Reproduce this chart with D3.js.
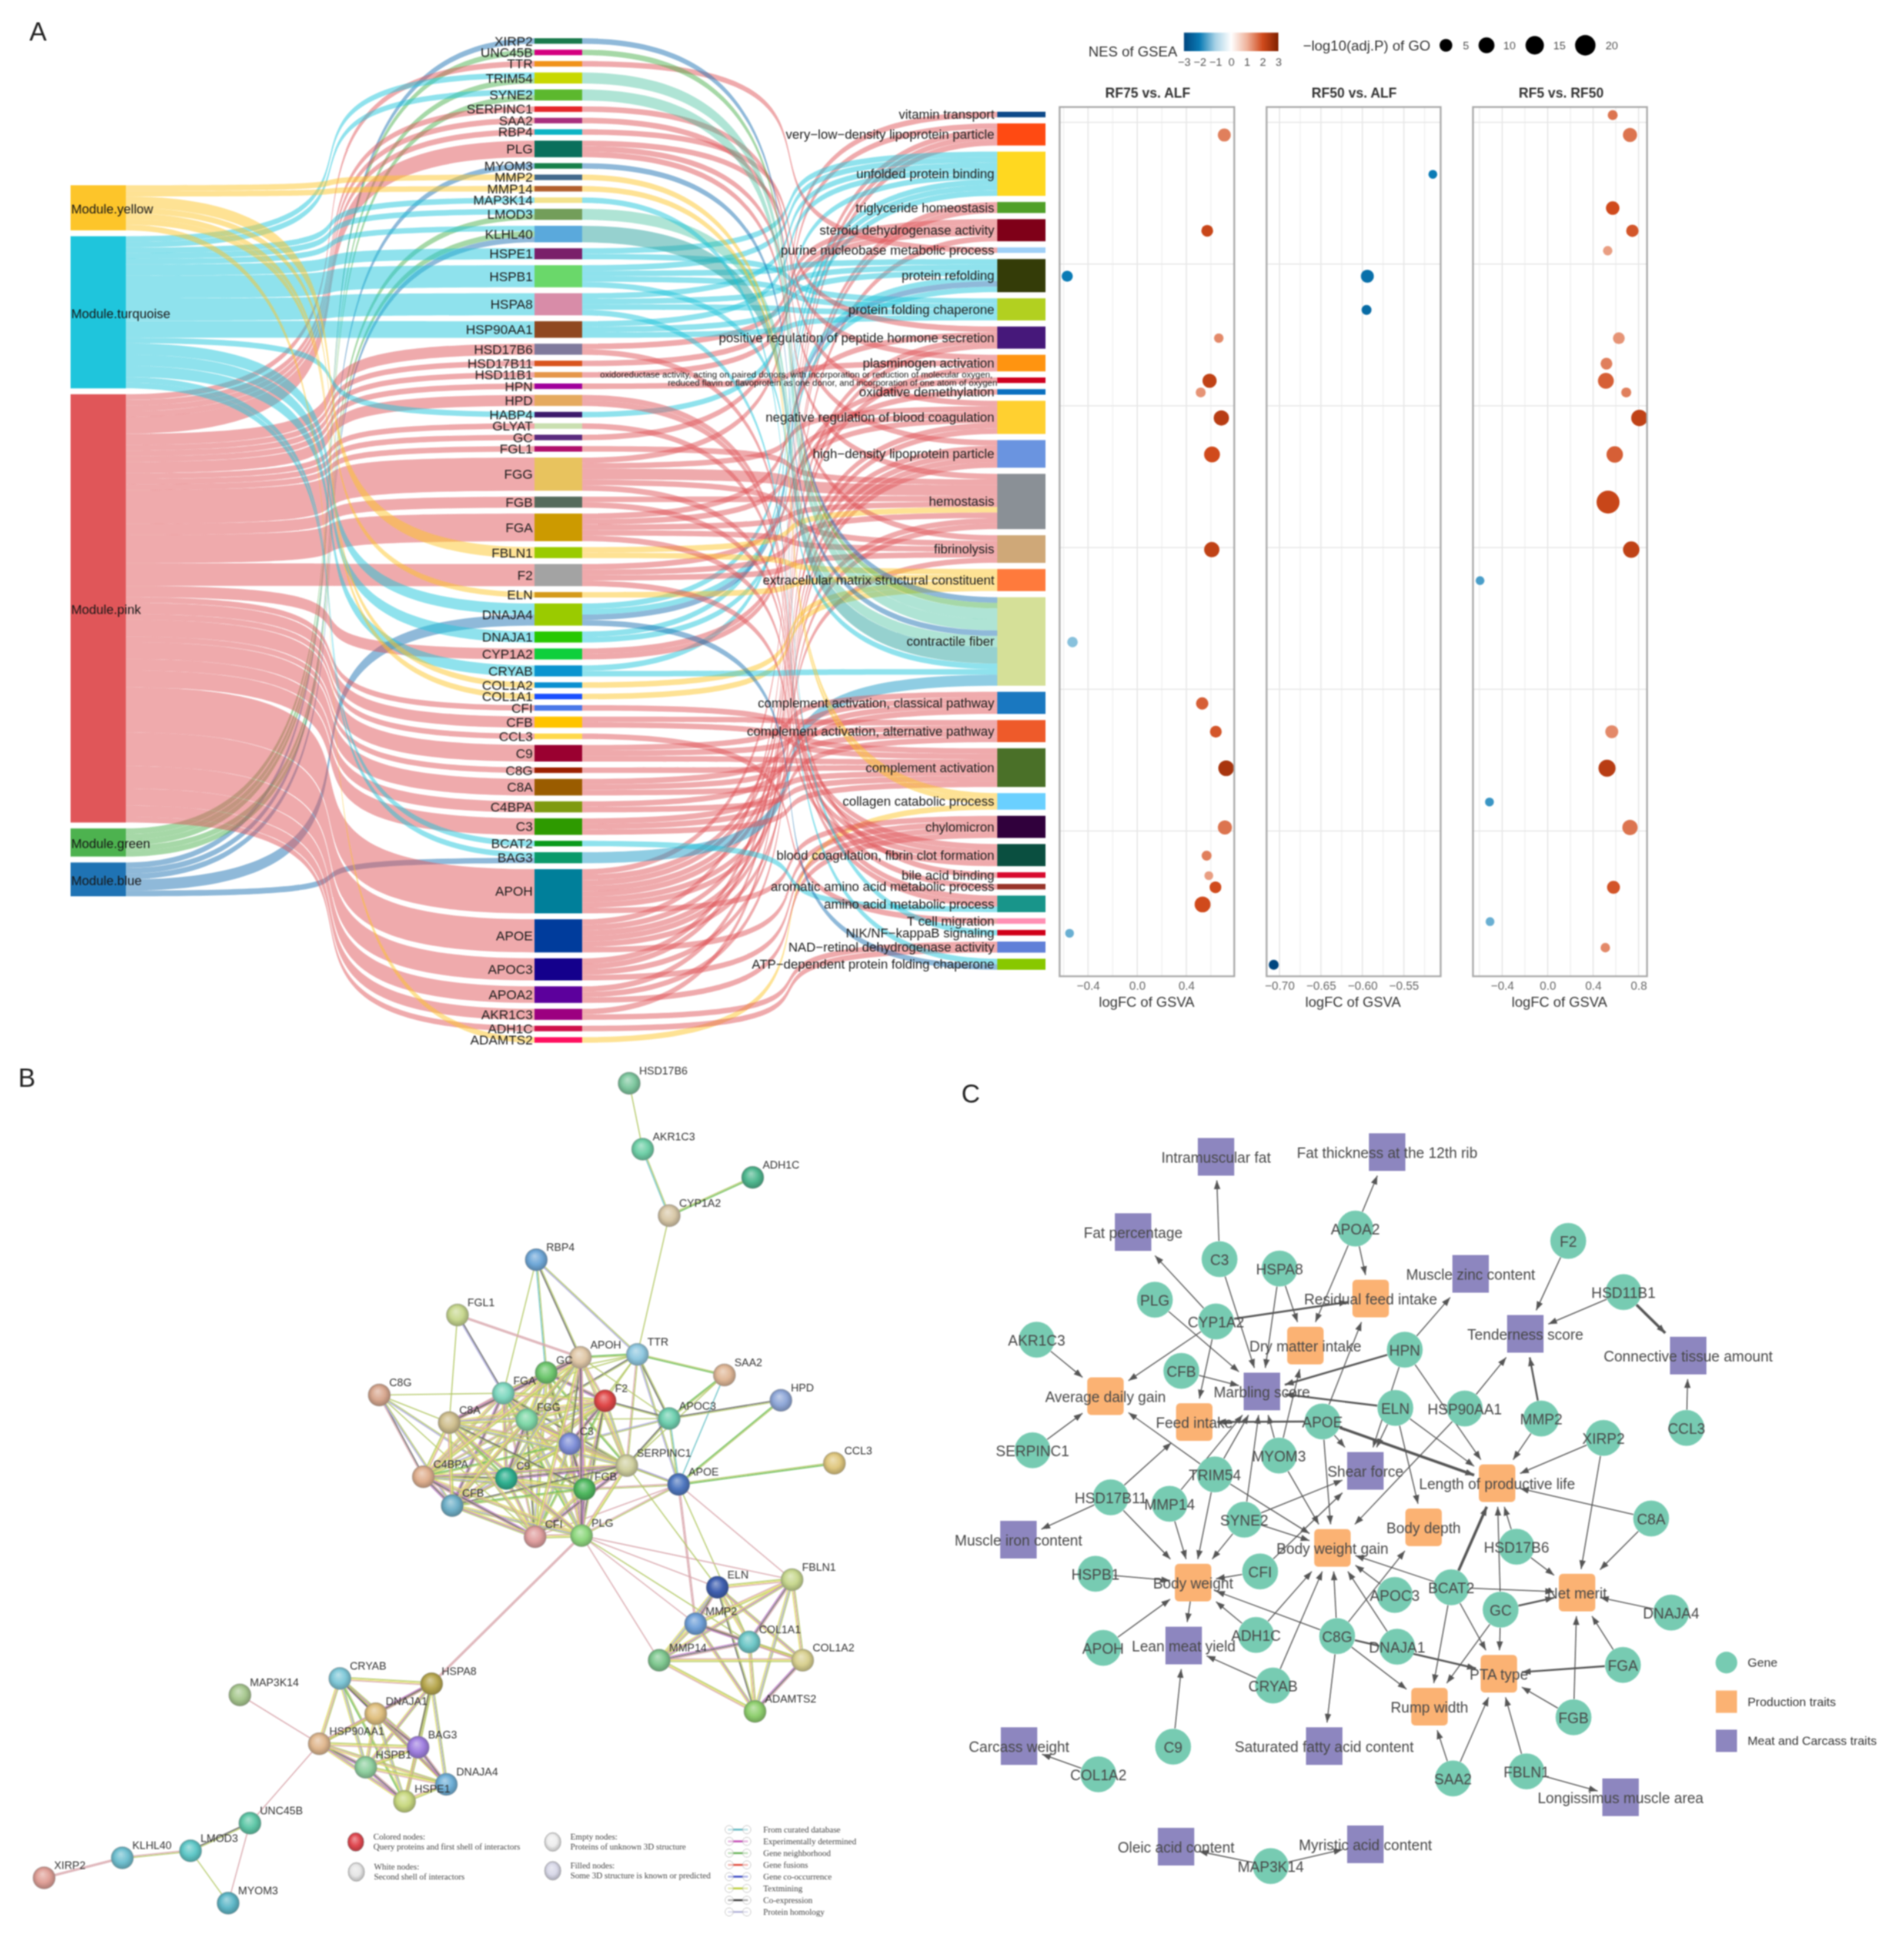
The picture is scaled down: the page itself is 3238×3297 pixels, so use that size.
<!DOCTYPE html>
<html><head><meta charset="utf-8">
<script src="https://cdn.jsdelivr.net/npm/d3@7/dist/d3.min.js"></script>
<style>
html,body{margin:0;padding:0;background:#fff}
svg{display:block;filter:blur(1.2px)}
text{font-family:"Liberation Sans",Arial,sans-serif}
</style></head><body>
<svg id="fig" width="3238" height="3297" viewBox="0 0 3238 3297"></svg>
<script>
/* ---------- panel A data ---------- */
const modules=["yellow","turquoise","pink","green","blue"];
const moduleFill=["#fdc52a","#1fc5dc","#e05659","#4db24f","#1f73b4"];
const genes=["XIRP2","UNC45B","TTR","TRIM54","SYNE2","SERPINC1","SAA2","RBP4","PLG","MYOM3","MMP2","MMP14","MAP3K14","LMOD3","KLHL40","HSPE1","HSPB1","HSPA8","HSP90AA1","HSD17B6","HSD17B11","HSD11B1","HPN","HPD","HABP4","GLYAT","GC","FGL1","FGG","FGB","FGA","FBLN1","F2","ELN","DNAJA4","DNAJA1","CYP1A2","CRYAB","COL1A2","COL1A1","CFI","CFB","CCL3","C9","C8G","C8A","C4BPA","C3","BCAT2","BAG3","APOH","APOE","APOC3","APOA2","AKR1C3","ADH1C","ADAMTS2"];
const geneFill=["#1a7a4c","#d4007f","#f0921a","#c8d800","#5cb82e","#e5262a","#a8307d","#0cb4c4","#0a6f5c","#17804a","#446a8c","#b25f2c","#f3e28c","#739e5a","#5aa9dc","#7a1f6a","#6ad86a","#d88ca8","#8f4820","#7f7a9c","#d9551e","#e5964a","#a0009c","#e5aa5e","#3c1a6a","#c9dfb0","#5a2a7e","#b00f6a","#e8c35e","#556b5c","#cc9a00","#9acb00","#a3a3a3","#d49a1a","#9acb00","#28c800","#0fcf3c","#0a94cf","#0a90d0","#1a50ff","#4a78e8","#ffc400","#ffd84a","#9a0030","#9c2000","#9a5c00","#7f9a10","#2e9a00","#0a9a1c","#0a9a6a","#007f9a","#003c9c","#14008c","#5c009c","#9c0080","#cf0f4a","#ff1060"];
const moduleYellow=[["MMP2",1],["MMP14",1],["FBLN1",2],["ELN",1],["COL1A2",1],["COL1A1",1],["ADAMTS2",1]];
const moduleTurquoise=[["TRIM54",1],["SYNE2",1],["MAP3K14",1],["LMOD3",1],["KLHL40",1],["HSPE1",2],["HSPB1",4],["HSPA8",4],["HSP90AA1",3],["HABP4",1],["DNAJA4",2],["DNAJA1",2],["CRYAB",2],["BCAT2",1],["BAG3",1]];
const modulePink=[["TTR",1],["SERPINC1",1],["SAA2",1],["RBP4",1],["PLG",3],["HSD17B6",2],["HSD17B11",1],["HSD11B1",1],["HPN",1],["HPD",2],["GLYAT",1],["GC",1],["FGL1",1],["FGG",6],["FGB",2],["FGA",5],["F2",4],["CYP1A2",2],["CFI",1],["CFB",2],["CCL3",1],["C9",3],["C8G",1],["C8A",3],["C4BPA",2],["C3",3],["APOH",8],["APOE",6],["APOC3",4],["APOA2",3],["AKR1C3",2],["ADH1C",1]];
const moduleGreen=[["UNC45B",1],["TRIM54",1],["SYNE2",1],["LMOD3",1],["KLHL40",1]];
const moduleBlue=[["XIRP2",1],["MYOM3",1],["KLHL40",1],["DNAJA4",2],["BAG3",1]];
const terms=["vitamin transport","very\u2212low\u2212density lipoprotein particle","unfolded protein binding","triglyceride homeostasis","steroid dehydrogenase activity","purine nucleobase metabolic process","protein refolding","protein folding chaperone","positive regulation of peptide hormone secretion","plasminogen activation","oxidoreductase","oxidative demethylation","negative regulation of blood coagulation","high\u2212density lipoprotein particle","hemostasis","fibrinolysis","extracellular matrix structural constituent","contractile fiber","complement activation, classical pathway","complement activation, alternative pathway","complement activation","collagen catabolic process","chylomicron","blood coagulation, fibrin clot formation","bile acid binding","aromatic amino acid metabolic process","amino acid metabolic process","T cell migration","NIK/NF\u2212kappaB signaling","NAD\u2212retinol dehydrogenase activity","ATP\u2212dependent protein folding chaperone"];
const termFill=["#0d4a8a","#ff4a12","#ffd820","#50a028","#7f0018","#a0d0f8","#343c08","#b2d020","#46187a","#ff9410","#d00020","#0a70c0","#ffd030","#6a94e0","#8a9096","#cfa878","#ff7a3c","#d5e098","#1a78c0","#ee5a2a","#4a7028","#6ad0ff","#30003c","#0a4f40","#d80a2e","#98342a","#18958a","#ff90b4","#d00018","#6080d8","#88c800"];
const termMembers=[
["GC"],
["FGG","APOH","APOE","APOC3"],
["HSPE1","HSPB1","HSPA8","HSP90AA1","HABP4","DNAJA4:turquoise","DNAJA1","CRYAB"],
["APOC3","APOA2"],
["HSD17B6","HSD17B11","HSD11B1","AKR1C3"],
["TTR"],
["HSPB1","HSPA8","HSP90AA1","DNAJA4:turquoise","DNAJA4:blue","DNAJA1"],
["HSPE1","HSPB1","HSPA8","HSP90AA1"],
["RBP4","FGA","APOH","APOE"],
["PLG","HPN","APOH"],
["CYP1A2"],
["CYP1A2"],
["SERPINC1","FGG","FGA","F2","APOH","APOE"],
["SAA2","APOH","APOE","APOC3","APOA2"],
["PLG","FGL1","FGG","FGG","FGB","FGA","FBLN1","F2","APOH","APOE"],
["PLG","FGG","FGA","F2","APOH"],
["FBLN1","ELN","COL1A2","COL1A1"],
["XIRP2","UNC45B","TRIM54","TRIM54","SYNE2","SYNE2","MYOM3","LMOD3","LMOD3","KLHL40","KLHL40","KLHL40","HSPB1","CRYAB","BAG3","BAG3"],
["C9","C8A","C4BPA","C3"],
["CFB","C9","C8A","C3"],
["CFI","CFB","C9","C8G","C8A","C4BPA","C3"],
["MMP2","MMP14","ADAMTS2"],
["APOH","APOE","APOC3","APOA2"],
["FGG","FGB","FGA","F2"],
["HSD17B6"],
["HPD"],
["HPD","GLYAT","BCAT2"],
["CCL3"],
["MAP3K14"],
["AKR1C3","ADH1C"],
["HSPA8","DNAJA4:blue"]
];
const moduleMembers=[moduleYellow,moduleTurquoise,modulePink,moduleGreen,moduleBlue];
const oxidoLines=["oxidoreductase activity, acting on paired donors, with incorporation or reduction of molecular oxygen,","reduced flavin or flavoprotein as one donor, and incorporation of one atom of oxygen"];

/* dot plot data */
const panelTitles=["RF75 vs. ALF","RF50 vs. ALF","RF5 vs. RF50"];
const p1Terms=[1,4,6,8,10,11,12,13,15,17,18,19,20,22,23,24,25,26,28];
const p1LogFC=[.709,.570,-.570,.664,.589,.517,.685,.609,.607,-.527,.529,.640,.724,.714,.565,.583,.637,.532,-.551];
const p1LogP=[5.3,3.9,3.2,1.7,7,2.1,8.9,9.9,8.9,2.6,4.6,3.9,9.5,7,2.1,1.25,3.9,9.9,1.25];
const p1NES=[1.5,2.1,-2.0,1.4,2.2,1.3,2.3,2.0,2.2,-1.2,1.8,1.9,2.5,1.6,1.5,1.2,2.0,2.0,-1.4];
const p2Terms=[2,6,7,30];
const p2LogFC=[-.515,-.594,-.595,-.707];
const p2LogP=[1.25,5.3,2.1,2.1];
const p2NES=[-2.0,-2.2,-2.3,-3.0];
const p3Terms=[0,1,3,4,5,8,9,10,11,12,13,14,15,16,19,20,21,22,25,27,29];
const p3LogFC=[.572,.724,.572,.745,.528,.626,.517,.512,.691,.807,.590,.531,.735,-.595,.564,.522,-.512,.724,.579,-.507,.507];
const p3LogP=[2.1,7,6.1,4.6,1.7,3.9,3.9,9.9,2.1,11,11,27,11,1.25,5.3,12.2,1.25,8.9,5.3,1.25,1.7];
const p3NES=[1.6,1.6,2.0,1.9,1.2,1.3,1.5,1.8,1.5,2.2,1.8,2.1,2.2,-1.6,1.4,2.3,-1.7,1.6,1.9,-1.4,1.4];
const nesStops=[-3,-2,-1,0,1,2,3];
const nesColors=["#00467f","#0a7bb5","#a8d2e6","#ffffff","#efb39c","#d04a1c","#802000"];
const sizeLegend=[5,10,15,20];

/* ---------- panel B data ---------- */
const bNames=["HSD17B6","AKR1C3","ADH1C","CYP1A2","RBP4","FGL1","APOH","TTR","SAA2","HPD","GC","FGA","F2","C8G","C8A","FGG","APOC3","C3","SERPINC1","CCL3","C4BPA","C9","FGB","APOE","CFB","CFI","PLG","ELN","FBLN1","MMP2","COL1A1","COL1A2","MMP14","ADAMTS2","CRYAB","HSPA8","MAP3K14","DNAJA1","HSP90AA1","BAG3","HSPB1","DNAJA4","HSPE1","UNC45B","LMOD3","KLHL40","XIRP2","MYOM3"];
const bX=[1070,1093,1280,1138,912,778,987,1084,1232,1328,929,856,1029,645,764,896,1138,969,1066,1419,720,861,994,1154,769,910,989,1220,1347,1183,1274,1365,1121,1284,578,734,408,639,543,711,622,759,688,425,324,208,75,388];
const bY=[1842,1954,2002,2067,2142,2236,2308,2303,2338,2381,2334,2369,2382,2372,2419,2414,2412,2455,2492,2488,2511,2514,2532,2524,2560,2613,2611,2699,2686,2761,2792,2823,2823,2910,2854,2863,2882,2914,2965,2971,3005,3034,3063,3100,3147,3159,3193,3236];
const bFill=["#7fc8a0","#70d0a8","#50b890","#d8c8a8","#70a8d8","#c8d890","#e0c8a8","#90c8e0","#e0b898","#90a8d8","#70c870","#80d8c0","#e04848","#d8a890","#d0c090","#80d8a8","#70d0b0","#8090d8","#d0d0a0","#e0c880","#e0b090","#30b090","#50b860","#5078c0","#70b0c8","#e0a0a0","#90d880","#4060b0","#c8d890","#70a0d8","#70c8c8","#d8d090","#80c890","#90d070","#80c8d8","#b8a850","#a8c890","#e0c080","#e0b890","#a080e0","#90d0a0","#70b0d8","#c8d880","#60c8a8","#60c8c8","#70c0d0","#e0a098","#60b8c8"];
const bCoreClique=["GC","FGA","F2","FGG","C3","C9","FGB","SERPINC1","PLG","CFI","APOH","C4BPA","C8A","CFB"];
const bHeatClique=["CRYAB","HSPA8","DNAJA1","HSP90AA1","BAG3","HSPB1","DNAJA4","HSPE1"];
const bMatrixClique=["ELN","FBLN1","MMP2","COL1A1","COL1A2","MMP14","ADAMTS2"];
const bStrandCycle=["tpy","tpy","tc","tyh","pce","thy","tp","typ","tey","tn"];
const bEdges=[["HSD17B6","AKR1C3","t"],["AKR1C3","CYP1A2","td"],["CYP1A2","ADH1C","tn"],["CYP1A2","TTR","t"],["RBP4","TTR","th"],["RBP4","APOH","tc"],["RBP4","FGA","t"],["RBP4","GC","td"],["FGL1","APOH","pp"],["FGL1","FGA","ch"],["FGL1","C8A","t"],["TTR","APOH","tn"],["TTR","SAA2","tn"],["TTR","APOC3","tc"],["TTR","GC","t"],["TTR","FGG","tc"],["TTR","F2","t"],["TTR","FGA","t"],["TTR","SERPINC1","tp"],["TTR","APOE","th"],["TTR","C3","t"],["SAA2","APOC3","tn"],["SAA2","APOE","d"],["SAA2","SERPINC1","t"],["HPD","APOC3","tc"],["HPD","APOE","tn"],["APOC3","APOE","dt"],["APOC3","SERPINC1","tc"],["APOC3","FGG","t"],["APOC3","C3","th"],["APOC3","F2","tc"],["APOC3","APOH","t"],["APOE","CCL3","tn"],["APOE","PLG","tp"],["APOE","SERPINC1","tp"],["APOE","FGB","tp"],["APOE","C3","th"],["APOE","CFI","p"],["APOE","MMP2","pp"],["APOE","FBLN1","p"],["APOE","COL1A1","t"],["C8G","FGA","t"],["C8G","C8A","t"],["C8G","C4BPA","cp"],["C8G","C9","th"],["C8G","CFB","th"],["C8G","CFI","t"],["PLG","MMP2","p"],["PLG","MMP14","p"],["PLG","ELN","p"],["PLG","COL1A1","t"],["PLG","FBLN1","p"],["PLG","HSPA8","pp"],["SERPINC1","ELN","t"],["MAP3K14","HSP90AA1","p"],["HSP90AA1","UNC45B","p"],["UNC45B","LMOD3","tc"],["UNC45B","MYOM3","p"],["LMOD3","MYOM3","t"],["LMOD3","KLHL40","tp"],["KLHL40","XIRP2","pp"]];
const bStrandColor={t:"#b5c96a",e:"#c080c8",d:"#6fc4c8",c:"#666",h:"#a9a6dc",n:"#6cbf5b",p:"#d9a9ae",y:"#e2e26a"};
const bLegendNodes=[["Colored nodes:","Query proteins and first shell of interactors","#e04850"],["White nodes:","Second shell of interactors","#e6e6e6"],["Empty nodes:","Proteins of unknown 3D structure","#eeeeee"],["Filled nodes:","Some 3D structure is known or predicted","#d8d8e8"]];
const bLegendEdges=["From curated database","Experimentally determined","Gene neighborhood","Gene fusions","Gene co-occurrence","Textmining","Co-expression","Protein homology"];
const bLegendEdgeColors=["#5ab5c0","#c040b0","#60b050","#e04030","#3040c0","#b8cc30","#333","#b0b0d8"];

/* ---------- panel C data ---------- */
const cGeneNames=["C3","APOA2","F2","HSPA8","PLG","HSD11B1","CYP1A2","AKR1C3","HPN","CFB","ELN","APOE","HSP90AA1","MMP2","XIRP2","CCL3","MYOM3","SERPINC1","TRIM54","HSD17B11","MMP14","SYNE2","C8A","HSD17B6","CFI","HSPB1","BCAT2","APOC3","GC","DNAJA4","ADH1C","C8G","DNAJA1","APOH","FGA","CRYAB","FGB","C9","COL1A2","SAA2","FBLN1","MAP3K14"];
const cGeneX=[2074,2305,2667,2176,1964,2761,2068,1763,2389,2009,2373,2249,2491,2621,2727,2868,2175,1756,2066,1889,1989,2116,2808,2579,2143,1863,2468,2372,2552,2842,2136,2274,2376,1876,2760,2165,2676,1995,1868,2471,2596,2161];
const cGeneY=[2141,2089,2110,2157,2210,2197,2247,2278,2295,2331,2394,2417,2395,2412,2445,2428,2475,2466,2507,2546,2557,2584,2582,2630,2672,2676,2699,2712,2737,2742,2780,2782,2800,2802,2831,2866,2920,2970,3017,3024,3012,3173];
const cProdNames=["Residual feed intake","Dry matter intake","Average daily gain","Feed intake","Length of productive life","Body depth","Body weight gain","Body weight","Net merit","PTA type","Rump width"];
const cProdX=[2331,2220,1880,2031,2546,2421,2266,2029,2682,2549,2431];
const cProdY=[2208,2288,2374,2418,2522,2597,2632,2691,2708,2846,2902];
const cMeatNames=["Intramuscular fat","Fat thickness at the 12th rib","Fat percentage","Muscle zinc content","Tenderness score","Connective tissue amount","Marbling score","Shear force","Muscle iron content","Lean meat yield","Carcass weight","Saturated fatty acid content","Longissimus muscle area","Oleic acid content","Myristic acid content"];
const cMeatX=[2068,2359,1927,2501,2594,2871,2146,2322,1732,2013,1733,2252,2756,2000,2322];
const cMeatY=[1967,1959,2095,2166,2268,2305,2366,2501,2618,2798,2969,2969,3056,3140,3136];
const cEdgesThin=[["C3","Intramuscular fat"],["C3","Marbling score"],["APOA2","Fat thickness at the 12th rib"],["APOA2","Dry matter intake"],["APOA2","Residual feed intake"],["CYP1A2","Fat percentage"],["CYP1A2","Average daily gain"],["CYP1A2","Feed intake"],["HSPA8","Marbling score"],["HSPA8","Dry matter intake"],["PLG","Marbling score"],["AKR1C3","Average daily gain"],["SERPINC1","Average daily gain"],["TRIM54","Average daily gain"],["CFB","Marbling score"],["HPN","Muscle zinc content"],["HPN","Shear force"],["HPN","Length of productive life"],["ELN","Shear force"],["ELN","Length of productive life"],["ELN","Body depth"],["HSP90AA1","Tenderness score"],["HSP90AA1","Body weight gain"],["MMP2","Length of productive life"],["F2","Tenderness score"],["HSD11B1","Tenderness score"],["CCL3","Connective tissue amount"],["APOE","Shear force"],["APOE","Body weight gain"],["APOE","Residual feed intake"],["MYOM3","Marbling score"],["MYOM3","Dry matter intake"],["MYOM3","Body weight gain"],["TRIM54","Marbling score"],["TRIM54","Body weight"],["TRIM54","Body weight gain"],["HSD17B11","Feed intake"],["HSD17B11","Muscle iron content"],["HSD17B11","Body weight"],["MMP14","Marbling score"],["MMP14","Body weight"],["SYNE2","Shear force"],["SYNE2","Body weight gain"],["SYNE2","Body weight"],["SYNE2","Marbling score"],["CFI","Body weight"],["CFI","Shear force"],["HSPB1","Body weight"],["XIRP2","Length of productive life"],["XIRP2","Net merit"],["C8A","Length of productive life"],["C8A","Net merit"],["HSD17B6","Length of productive life"],["HSD17B6","Net merit"],["BCAT2","Net merit"],["BCAT2","Body weight gain"],["BCAT2","Rump width"],["BCAT2","PTA type"],["GC","Length of productive life"],["GC","PTA type"],["GC","Rump width"],["DNAJA4","Net merit"],["FGA","Net merit"],["FGB","Net merit"],["FGB","PTA type"],["ADH1C","Body weight"],["ADH1C","Body weight gain"],["C8G","Body weight"],["C8G","Body weight gain"],["C8G","Body depth"],["C8G","Rump width"],["C8G","Saturated fatty acid content"],["DNAJA1","Body weight gain"],["APOC3","Body weight gain"],["APOH","Body weight"],["CRYAB","Lean meat yield"],["CRYAB","Body weight gain"],["Body weight","Lean meat yield"],["C9","Lean meat yield"],["COL1A2","Carcass weight"],["SAA2","Rump width"],["SAA2","PTA type"],["FBLN1","PTA type"],["FBLN1","Longissimus muscle area"],["MAP3K14","Oleic acid content"],["MAP3K14","Myristic acid content"]];
const cEdgesMedium=[["CYP1A2","Residual feed intake"],["ELN","Marbling score"],["APOE","Feed intake"],["HPN","Marbling score"],["MMP2","Tenderness score"],["GC","Net merit"],["FGA","PTA type"],["C8G","PTA type"]];
const cEdgesThick=[["HSD11B1","Connective tissue amount"],["APOE","Length of productive life"],["BCAT2","Length of productive life"]];
const cLegend=[["Gene","#77cbb2"],["Production traits","#fbb273"],["Meat and Carcass traits","#8d86bf"]];

/* ---------- helpers ---------- */
const svg=d3.select("#fig");
const defs=svg.append("defs");
const SANS='"Liberation Sans",Arial,sans-serif';
const id=d3.scaleIdentity();

/* ---------- panel A: alluvial ---------- */
const gA=svg.append("g");
function stackColumn(names,weight,top,bottom,gap){
  const total=d3.sum(names,weight);
  const y=d3.scaleLinear().domain([0,total]).range([top,bottom-gap*(names.length-1)]);
  let cum=0;const out=new Map();
  names.forEach((n,i)=>{const w=weight(n);out.set(n,{y0:y(cum)+i*gap,y1:y(cum+w)+i*gap,u:y(1)-y(0)});cum+=w;});
  return out;
}
function ribbon(x0,x1,a0,a1,b0,b1){
  const w=x1-x0,k=0.9*w,p=d3.path();
  p.moveTo(x0,a0);p.bezierCurveTo(x0+k,a0,x1-k,b0,x1,b0);
  p.lineTo(x1,b1);p.bezierCurveTo(x1-k,b1,x0+k,a1,x0,a1);p.closePath();
  return p.toString();
}
const geneIndex=new Map(genes.map((g,i)=>[g,i]));
const modLinks=[];moduleMembers.forEach((list,m)=>list.forEach(([g,w])=>modLinks.push({m,g,w})));
const geneMods=d3.group(modLinks,d=>d.g);
const termLinks=[];
termMembers.forEach((list,t)=>list.forEach(e=>{
  const [g,mod]=e.split(":");
  const last=termLinks[termLinks.length-1];
  if(last&&last.g===g&&last.t===t&&last.mod===mod)last.w+=1;else termLinks.push({g,t,w:1,mod});
}));
function geneLinkColor(l){
  if(l.mod)return moduleFill[modules.indexOf(l.mod)];
  const ms=geneMods.get(l.g);const tot=d3.sum(ms,d=>d.w);
  let r=0,gg=0,b=0;ms.forEach(d=>{const c=d3.rgb(moduleFill[d.m]);r+=c.r*d.w/tot;gg+=c.g*d.w/tot;b+=c.b*d.w/tot;});
  return d3.rgb(r,gg,b).formatHex();
}
function geneLinkOpacity(l){
  if(l.mod)return .5;
  const ms=geneMods.get(l.g);
  return ms.length===2&&ms.some(d=>modules[d.m]==="green")?.4:.5;
}
const xMod=d3.scaleLinear().domain([0,1]).range([120,214]);
const xGene=d3.scaleLinear().domain([0,1]).range([909,990]);
const xTerm=d3.scaleLinear().domain([0,1]).range([1696,1778]);
const modCol=stackColumn(modules,m=>d3.sum(moduleMembers[modules.indexOf(m)],d=>d[1]),315,1524,10);
const geneCol=stackColumn(genes,g=>d3.sum(geneMods.get(g),d=>d.w),65,1773,10.02);
const termCol=stackColumn(terms,t=>termMembers[terms.indexOf(t)].length,190,1649,10.4);
/* module -> gene ribbons */
const modCursor=new Map(modules.map(m=>[m,modCol.get(m).y0]));
const geneInCursor=new Map(genes.map(g=>[g,geneCol.get(g).y0]));
const modSorted=modLinks.slice().sort((a,b)=>d3.ascending(geneIndex.get(a.g),geneIndex.get(b.g))||d3.ascending(a.m,b.m));
const modPaths=[];
modSorted.forEach(l=>{
  const name=modules[l.m],mc=modCol.get(name),gc=geneCol.get(l.g);
  const a0=modCursor.get(name),a1=a0+l.w*mc.u;modCursor.set(name,a1);
  const b0=geneInCursor.get(l.g),b1=b0+l.w*gc.u;geneInCursor.set(l.g,b1);
  modPaths.push({d:ribbon(xMod(1),xGene(0),a0,a1,b0,b1),fill:moduleFill[l.m],m:l.m});
});
gA.append("g").selectAll("path").data(modPaths).join("path").attr("d",d=>d.d).attr("fill",d=>d.fill).attr("fill-opacity",.5);
/* gene -> term ribbons */
const geneOutCursor=new Map(genes.map(g=>[g,geneCol.get(g).y0]));
const termCursor=new Map(terms.map(t=>[t,termCol.get(t).y0]));
const byGene=termLinks.slice().sort((a,b)=>d3.ascending(geneIndex.get(a.g),geneIndex.get(b.g))||d3.ascending(a.t,b.t));
byGene.forEach(l=>{const gc=geneCol.get(l.g);l.a0=geneOutCursor.get(l.g);l.a1=l.a0+l.w*gc.u;geneOutCursor.set(l.g,l.a1);});
const byTerm=termLinks.slice().sort((a,b)=>d3.ascending(a.t,b.t)||d3.ascending(geneIndex.get(a.g),geneIndex.get(b.g)));
byTerm.forEach(l=>{const name=terms[l.t],tc=termCol.get(name);l.b0=termCursor.get(name);l.b1=l.b0+l.w*tc.u;termCursor.set(name,l.b1);});
gA.append("g").selectAll("path").data(termLinks).join("path")
  .attr("d",l=>ribbon(xGene(1),xTerm(0),l.a0,l.a1,l.b0,l.b1))
  .attr("fill",geneLinkColor).attr("fill-opacity",geneLinkOpacity);
/* strata */
gA.append("g").selectAll("rect").data(modules).join("rect").attr("x",xMod(0)).attr("width",xMod(1)-xMod(0))
  .attr("y",m=>modCol.get(m).y0).attr("height",m=>modCol.get(m).y1-modCol.get(m).y0).attr("fill",(m,i)=>moduleFill[i]);
gA.append("g").selectAll("rect").data(genes).join("rect").attr("x",xGene(0)).attr("width",xGene(1)-xGene(0))
  .attr("y",g=>geneCol.get(g).y0).attr("height",g=>geneCol.get(g).y1-geneCol.get(g).y0).attr("fill",(g,i)=>geneFill[i]);
gA.append("g").selectAll("rect").data(terms).join("rect").attr("x",xTerm(0)).attr("width",xTerm(1)-xTerm(0))
  .attr("y",t=>termCol.get(t).y0).attr("height",t=>termCol.get(t).y1-termCol.get(t).y0).attr("fill",(t,i)=>termFill[i]);
/* labels */
gA.append("g").selectAll("text").data(modules).join("text").attr("x",xMod(0)+1)
  .attr("y",m=>(modCol.get(m).y0+modCol.get(m).y1)/2+2).attr("dy",".35em").attr("font-size",22).attr("fill","#161616").text(m=>"Module."+m);
gA.append("g").selectAll("text").data(genes).join("text").attr("x",xGene(0)-3).attr("text-anchor","end")
  .attr("y",g=>(geneCol.get(g).y0+geneCol.get(g).y1)/2).attr("dy",".35em").attr("font-size",22.5).attr("fill","#1c1c1c").text(g=>g);
gA.append("g").selectAll("text").data(terms.filter(t=>t!=="oxidoreductase")).join("text").attr("x",xTerm(0)-5).attr("text-anchor","end")
  .attr("y",t=>(termCol.get(t).y0+termCol.get(t).y1)/2).attr("dy",".35em").attr("font-size",22).attr("fill","#1c1c1c").text(t=>t);
const oxC=termCol.get("oxidoreductase");
gA.append("g").selectAll("text").data(oxidoLines).join("text").attr("text-anchor","end")
  .attr("x",(d,i)=>xTerm(0)-(i?0:8)).attr("y",(d,i)=>(oxC.y0+oxC.y1)/2-10+i*14).attr("font-size",15).attr("dy",".35em").attr("fill","#1c1c1c").text(d=>d);

/* ---------- dot plots ---------- */
const nesColor=d3.scaleLinear().domain(nesStops).range(nesColors).clamp(true);
const rSize=d3.scaleSqrt().domain([0,20]).range([4.2,17.4]);
const rowGrid=d3.scaleLinear().domain([0,5]).range([208,1413]);
const panelY=[182,1660];
const panels=[
 {x:[1802,2099],dom:[-.632,.79],ticks:[-.4,0,.4],minor:[-.6,-.2,.2,.6],fmt:".1f",terms:p1Terms,fc:p1LogFC,lp:p1LogP,nes:p1NES,tx:1952,lx:1950},
 {x:[2154,2450],dom:[-.7156,-.5056],ticks:[-.7,-.65,-.6,-.55],minor:[-.675,-.625,-.575,-.525],fmt:".2f",terms:p2Terms,fc:p2LogFC,lp:p2LogP,nes:p2NES,tx:2303,lx:2301},
 {x:[2505,2801],dom:[-.657,.874],ticks:[-.4,0,.4,.8],minor:[-.6,-.2,.2,.6],fmt:".1f",terms:p3Terms,fc:p3LogFC,lp:p3LogP,nes:p3NES,tx:2655,lx:2652}
];
panels.forEach((p,pi)=>{
  const g=svg.append("g");
  const x=d3.scaleLinear().domain(p.dom).range(p.x);
  g.append("rect").attr("x",p.x[0]).attr("y",panelY[0]).attr("width",p.x[1]-p.x[0]).attr("height",panelY[1]-panelY[0]).attr("fill","#fff");
  g.selectAll(".mn").data(p.minor).join("line").attr("x1",x).attr("x2",x).attr("y1",panelY[0]).attr("y2",panelY[1]).attr("stroke","#f1f1f1").attr("stroke-width",2);
  g.selectAll(".mj").data(p.ticks).join("line").attr("x1",x).attr("x2",x).attr("y1",panelY[0]).attr("y2",panelY[1]).attr("stroke","#e6e6e6").attr("stroke-width",2);
  g.selectAll(".rw").data(d3.range(0,6)).join("line").attr("x1",p.x[0]).attr("x2",p.x[1]).attr("y1",rowGrid).attr("y2",rowGrid).attr("stroke","#e8e8e8").attr("stroke-width",2);
  const dots=p.terms.map((t,i)=>({t,fc:p.fc[i],lp:p.lp[i],nes:p.nes[i]}));
  g.selectAll("circle").data(dots).join("circle").attr("cx",d=>x(d.fc))
    .attr("cy",d=>{const c=termCol.get(terms[d.t]);return (c.y0+c.y1)/2+1;}).attr("r",d=>rSize(d.lp)).attr("fill",d=>nesColor(d.nes));
  g.append("rect").attr("x",p.x[0]).attr("y",panelY[0]).attr("width",p.x[1]-p.x[0]).attr("height",panelY[1]-panelY[0]).attr("fill","none").attr("stroke","#a8a8a8").attr("stroke-width",3);
  const ax=g.append("g").attr("transform",`translate(0,${panelY[1]})`).call(d3.axisBottom(x).tickValues(p.ticks).tickSize(0).tickPadding(9).tickFormat(d3.format(p.fmt)));
  ax.select(".domain").remove();
  ax.selectAll("text").attr("font-size",20).attr("font-family",SANS).attr("fill","#666");
  g.append("text").attr("x",p.lx).attr("y",1704).attr("dy",".35em").attr("text-anchor","middle").attr("font-size",24).attr("fill","#333").text("logFC of GSVA");
  g.append("text").attr("x",p.tx).attr("y",158).attr("dy",".35em").attr("text-anchor","middle").attr("font-size",23).attr("font-weight","bold").attr("fill","#333").text(panelTitles[pi]);
});
/* colour legend */
const nesX=d3.scaleLinear().domain([-3,3]).range([2013.5,2174]);
const grad=defs.append("linearGradient").attr("id","nesGrad");
nesStops.forEach((s,i)=>grad.append("stop").attr("offset",(s+3)/6).attr("stop-color",nesColors[i]));
svg.append("rect").attr("x",nesX(-3)).attr("width",nesX(3)-nesX(-3)).attr("y",55.5).attr("height",31.5).attr("fill","url(#nesGrad)");
const legAx=svg.append("g").attr("transform","translate(0,90)").call(d3.axisBottom(nesX).tickValues(nesStops).tickSize(0).tickPadding(9).tickFormat(d3.format("d")));
legAx.select(".domain").remove();legAx.selectAll("text").attr("font-size",19).attr("font-family",SANS).attr("fill","#555");
svg.append("text").attr("x",1851).attr("y",87).attr("dy",".35em").attr("font-size",24.3).attr("fill","#333").text("NES of GSEA");
svg.append("text").attr("x",2216).attr("y",77).attr("dy",".35em").attr("font-size",24.3).attr("fill","#333").text("\u2212log10(adj.P) of GO");
const sizeX=d3.scaleOrdinal().domain(sizeLegend).range([2459,2528,2610,2696]);
const sizeLabX=d3.scaleOrdinal().domain(sizeLegend).range([2493,2567,2652,2741]);
svg.append("g").selectAll("circle").data(sizeLegend).join("circle").attr("cx",sizeX).attr("cy",77).attr("r",rSize).attr("fill","#000");
svg.append("g").selectAll("text").data(sizeLegend).join("text").attr("x",sizeLabX).attr("y",77).attr("dy",".35em").attr("text-anchor","middle").attr("font-size",19).attr("fill","#555").text(d=>d);

/* panel letters */
const letters=[["A",50,69],["B",31,1848],["C",1635,1875]];
svg.append("g").selectAll("text").data(letters).join("text").attr("x",d=>d[1]).attr("y",d=>d[2]).attr("font-size",44).attr("fill","#222").text(d=>d[0]);

/* ---------- panel B: protein network ---------- */
const gB=svg.append("g");
const bPos=new Map(bNames.map((n,i)=>[n,{x:id(bX[i]),y:id(bY[i]),fill:bFill[i],i}]));
const allB=bEdges.slice();
[bCoreClique,bHeatClique,bMatrixClique].forEach(list=>{
  for(let a=0;a<list.length;a++)for(let b=a+1;b<list.length;b++){
    allB.push([list[a],list[b],bStrandCycle[(a*3+b*7)%bStrandCycle.length]]);
  }
});
const strands=[];
allB.forEach(([a,b,k])=>{
  const A=bPos.get(a),B=bPos.get(b);const dx=B.x-A.x,dy=B.y-A.y,l=Math.hypot(dx,dy)||1;
  const nx=-dy/l,ny=dx/l;
  [...k].forEach((c,i)=>{const o=(i-(k.length-1)/2)*2.2;strands.push({x1:A.x+nx*o,y1:A.y+ny*o,x2:B.x+nx*o,y2:B.y+ny*o,c});});
});
gB.append("g").selectAll("line").data(strands).join("line").attr("x1",d=>d.x1).attr("y1",d=>d.y1).attr("x2",d=>d.x2).attr("y2",d=>d.y2)
  .attr("stroke",d=>bStrandColor[d.c]).attr("stroke-width",2.1).attr("stroke-opacity",.88);
function sphere(key,color){
  const g=defs.append("radialGradient").attr("id",key).attr("cx","50%").attr("cy","50%").attr("r","55%").attr("fx","42%").attr("fy","32%");
  const c=d3.color(color);
  g.append("stop").attr("offset","0%").attr("stop-color",d3.interpolateRgb(color,"#fff")(.45));
  g.append("stop").attr("offset","55%").attr("stop-color",color);
  g.append("stop").attr("offset","100%").attr("stop-color",c.darker(.9).formatHex());
}
bNames.forEach((n,i)=>sphere("bn"+i,bFill[i]));
gB.append("g").selectAll("circle").data(bNames).join("circle").attr("cx",n=>bPos.get(n).x).attr("cy",n=>bPos.get(n).y).attr("r",19)
  .attr("fill",n=>`url(#bn${bPos.get(n).i})`).attr("stroke","#999").attr("stroke-opacity",.5).attr("stroke-width",1.2);
gB.append("g").selectAll("text").data(bNames).join("text").attr("x",n=>bPos.get(n).x+17).attr("y",n=>bPos.get(n).y-21).attr("dy",".35em")
  .attr("font-size",18.5).attr("fill","#333").text(n=>n);
/* legend B */
const bLegX=d3.scaleOrdinal().domain(bLegendNodes.map(d=>d[0])).range([605,606,940,940]);
const bLegY=d3.scaleOrdinal().domain(bLegendNodes.map(d=>d[0])).range([3132,3183,3132,3181]);
bLegendNodes.forEach((d,i)=>sphere("bl"+i,d[2]));
gB.append("g").selectAll("ellipse").data(bLegendNodes).join("ellipse").attr("cx",d=>bLegX(d[0])).attr("cy",d=>bLegY(d[0])).attr("rx",14).attr("ry",16)
  .attr("fill",(d,i)=>`url(#bl${i})`).attr("stroke","#aaa").attr("stroke-width",1);
const bLegT=gB.append("g").attr("font-size",14.5).attr("fill","#444");
bLegT.selectAll(".a").data(bLegendNodes).join("text").attr("x",d=>bLegX(d[0])+30).attr("y",d=>bLegY(d[0])-9).attr("dy",".35em").style("font-family",'"Liberation Serif",serif').text(d=>d[0]);
bLegT.selectAll(".b").data(bLegendNodes).join("text").attr("x",d=>bLegX(d[0])+30).attr("y",d=>bLegY(d[0])+8).attr("dy",".35em").style("font-family",'"Liberation Serif",serif').text(d=>d[1]);
const bLegRow=d3.scaleLinear().domain([0,7]).range([3111,3251]);
const rowG=gB.append("g").selectAll("g").data(bLegendEdges).join("g").attr("transform",(d,i)=>`translate(0,${bLegRow(i)})`);
rowG.append("line").attr("x1",1238).attr("x2",1272).attr("stroke",(d,i)=>bLegendEdgeColors[i]).attr("stroke-width",3);
rowG.append("circle").attr("cx",1240).attr("r",7).attr("fill","#fff").attr("fill-opacity",.6).attr("stroke","#bbb");
rowG.append("circle").attr("cx",1270).attr("r",7).attr("fill","#fff").attr("fill-opacity",.6).attr("stroke","#bbb");
rowG.append("text").attr("x",1298).attr("dy",".35em").attr("font-size",14.5).attr("fill","#444").style("font-family",'"Liberation Serif",serif').text(d=>d);

/* ---------- panel C: trait network ---------- */
const gC=svg.append("g");
const cNodes=new Map();
cGeneNames.forEach((n,i)=>cNodes.set(n,{n,x:id(cGeneX[i]),y:id(cGeneY[i]),kind:"gene"}));
cProdNames.forEach((n,i)=>cNodes.set(n,{n,x:id(cProdX[i]),y:id(cProdY[i]),kind:"prod"}));
cMeatNames.forEach((n,i)=>cNodes.set(n,{n,x:id(cMeatX[i]),y:id(cMeatY[i]),kind:"meat"}));
defs.append("marker").attr("id","arw").attr("markerUnits","userSpaceOnUse").attr("markerWidth",16).attr("markerHeight",14).attr("refX",15).attr("refY",7).attr("orient","auto")
  .append("path").attr("d","M0,1.5L15,7L0,12.5z").attr("fill","#555");
function boundary(node,ux,uy,extra){
  if(node.kind==="gene")return 31+extra;
  const hw=31+extra,hh=32+extra;
  const tx=Math.abs(ux)>1e-6?hw/Math.abs(ux):1e9,ty=Math.abs(uy)>1e-6?hh/Math.abs(uy):1e9;
  return Math.min(tx,ty);
}
const cEdgeData=cEdgesThin.map(e=>({s:e[0],t:e[1],w:1.8})).concat(cEdgesMedium.map(e=>({s:e[0],t:e[1],w:3.2})),cEdgesThick.map(e=>({s:e[0],t:e[1],w:4.6})));
cEdgeData.forEach(e=>{
  const S=cNodes.get(e.s),T=cNodes.get(e.t),dx=T.x-S.x,dy=T.y-S.y,l=Math.hypot(dx,dy),ux=dx/l,uy=dy/l;
  const a=boundary(S,ux,uy,0),b=boundary(T,ux,uy,8);
  e.x1=S.x+ux*a;e.y1=S.y+uy*a;e.x2=T.x-ux*b;e.y2=T.y-uy*b;
});
gC.append("g").selectAll("line").data(cEdgeData).join("line").attr("x1",d=>d.x1).attr("y1",d=>d.y1).attr("x2",d=>d.x2).attr("y2",d=>d.y2)
  .attr("stroke","#555").attr("stroke-width",d=>d.w).attr("marker-end","url(#arw)");
const cAll=[...cNodes.values()];
gC.append("g").selectAll("rect").data(cAll.filter(d=>d.kind!=="gene")).join("rect")
  .attr("x",d=>d.x-31).attr("y",d=>d.y-32).attr("width",62).attr("height",64).attr("rx",d=>d.kind==="prod"?7:0)
  .attr("fill",d=>d.kind==="prod"?cLegend[1][1]:cLegend[2][1]);
gC.append("g").selectAll("circle").data(cAll.filter(d=>d.kind==="gene")).join("circle").attr("cx",d=>d.x).attr("cy",d=>d.y).attr("r",30.5).attr("fill",cLegend[0][1]);
gC.append("g").selectAll("text").data(cAll).join("text").attr("x",d=>d.x).attr("y",d=>d.y+1).attr("dy",".35em").attr("text-anchor","middle")
  .attr("font-size",25).attr("fill","#484848").text(d=>d.n);
const cLegY=d3.scaleLinear().domain([0,2]).range([2827,2960]);
const cLegG=gC.append("g").selectAll("g").data(cLegend).join("g").attr("transform",(d,i)=>`translate(2936,${cLegY(i)})`);
cLegG.filter((d,i)=>i===0).append("circle").attr("r",18.5).attr("fill",d=>d[1]);
cLegG.filter((d,i)=>i>0).append("rect").attr("x",-18).attr("y",-19).attr("width",36).attr("height",38).attr("fill",d=>d[1]);
cLegG.append("text").attr("x",36).attr("dy",".35em").attr("font-size",20.8).attr("fill","#333").text(d=>d[0]);
</script>
</body></html>
